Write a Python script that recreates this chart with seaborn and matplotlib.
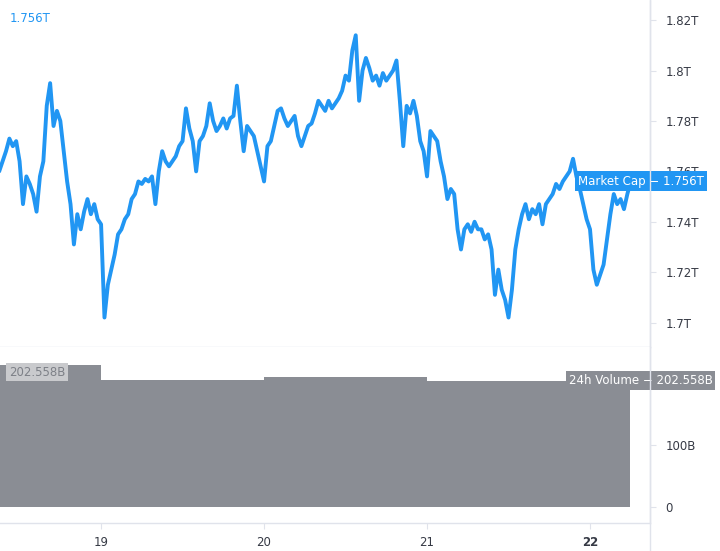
import numpy as np
import pandas as pd
import matplotlib.pyplot as plt
import matplotlib.dates as mdates
from matplotlib.lines import Line2D
import seaborn as sns

sns.set_style("white")
plt.rcParams["font.family"] = ["DejaVu Sans"]

# total market cap (trillions USD), one reading every 30 minutes from Feb 18 09:00
cap_start = "2021-02-18 09:00"
market_cap = [
    1.760, 1.764, 1.768, 1.773, 1.770, 1.772, 1.764, 1.747, 1.758, 1.755,
    1.751, 1.744, 1.758, 1.764, 1.786, 1.795, 1.778, 1.784, 1.780, 1.768,
    1.756, 1.747, 1.731, 1.743, 1.737, 1.744, 1.749, 1.743, 1.747, 1.741,
    1.739, 1.702, 1.715, 1.721, 1.727, 1.735, 1.737, 1.741, 1.743, 1.749,
    1.751, 1.756, 1.755, 1.757, 1.756, 1.758, 1.747, 1.760, 1.768, 1.764,
    1.762, 1.764, 1.766, 1.770, 1.772, 1.785, 1.777, 1.772, 1.760, 1.772,
    1.774, 1.778, 1.787, 1.780, 1.776, 1.778, 1.781, 1.777, 1.781, 1.782,
    1.794, 1.780, 1.768, 1.778, 1.776, 1.774, 1.768, 1.762, 1.756, 1.770,
    1.772, 1.778, 1.784, 1.785, 1.781, 1.778, 1.780, 1.782, 1.774, 1.770,
    1.774, 1.778, 1.779, 1.783, 1.788, 1.786, 1.784, 1.788, 1.785, 1.787,
    1.789, 1.792, 1.798, 1.796, 1.808, 1.814, 1.788, 1.800, 1.805, 1.801,
    1.796, 1.798, 1.794, 1.799, 1.796, 1.798, 1.800, 1.804, 1.788, 1.770,
    1.786, 1.783, 1.788, 1.782, 1.772, 1.768, 1.758, 1.776, 1.774, 1.772,
    1.764, 1.758, 1.749, 1.753, 1.751, 1.737, 1.729, 1.737, 1.739, 1.736,
    1.740, 1.737, 1.737, 1.733, 1.735, 1.729, 1.711, 1.721, 1.713, 1.709,
    1.702, 1.713, 1.729, 1.737, 1.743, 1.747, 1.741, 1.745, 1.743, 1.747,
    1.739, 1.747, 1.749, 1.751, 1.755, 1.753, 1.756, 1.758, 1.760, 1.765,
    1.758, 1.753, 1.747, 1.741, 1.737, 1.721, 1.715, 1.719, 1.723, 1.733,
    1.743, 1.751, 1.747, 1.749, 1.745, 1.751, 1.756,
]

# 24h volume (billions USD), daily steps
vol_times = ["2021-02-18 09:00", "2021-02-19 00:00", "2021-02-20 00:00",
             "2021-02-21 00:00", "2021-02-22 05:54"]
volume = [228, 204, 209, 202.558, 202.558]

cap_ticks = [1.70, 1.72, 1.74, 1.76, 1.78, 1.80, 1.82]
vol_ticks = [0, 100]
day_ticks = ["2021-02-19", "2021-02-20", "2021-02-21", "2021-02-22"]
day_labels = ["19", "20", "21", "22"]

BLUE = "#2196f3"
GREY = "#8a8d94"
LINE = "#e0e3eb"
TEXT = "#363a45"

cap_df = pd.DataFrame({
    "time": pd.date_range(cap_start, periods=len(market_cap), freq="30min"),
    "cap": market_cap,
})
vol_df = pd.DataFrame({"time": pd.to_datetime(vol_times), "volume": volume})

W, H = 720, 551
fig = plt.figure(figsize=(W / 100, H / 100), dpi=100)
right = 650
ax1 = fig.add_axes([0, (H - 347) / H, right / W, 347 / H])
ax2 = fig.add_axes([0, (H - 523) / H, right / W, (523 - 347) / H], sharex=ax1)

sns.lineplot(data=cap_df, x="time", y="cap", ax=ax1, color=BLUE, linewidth=2.8)
ax2.fill_between(vol_df["time"], vol_df["volume"], step="post", color=GREY, linewidth=0)

ax1.set_xlim(pd.Timestamp("2021-02-18 09:07"), pd.Timestamp("2021-02-22 08:50"))
ax1.set_ylim(1.6903, 1.8280)
ax2.set_ylim(-25.7, 257)

for ax in (ax1, ax2):
    ax.set_xlabel("")
    ax.set_ylabel("")
    ax.yaxis.tick_right()
    for s in ("top", "left"):
        ax.spines[s].set_visible(False)
    for s in ("right", "bottom"):
        ax.spines[s].set_color(LINE)
        ax.spines[s].set_linewidth(1)
    ax.tick_params(axis="y", colors=LINE, labelcolor=TEXT, length=4, pad=7,
                   labelsize=8.5, right=True, left=False)

ax1.set_yticks(cap_ticks)
ax1.set_yticklabels([f"{v:g}T" for v in cap_ticks])
ax2.set_yticks(vol_ticks)
ax2.set_yticklabels(["0" if v == 0 else f"{v:g}B" for v in vol_ticks])

ax1.tick_params(axis="x", bottom=False, labelbottom=False)
ax2.set_xticks(pd.to_datetime(day_ticks))
ax2.set_xticklabels(day_labels)
ax2.tick_params(axis="x", colors=LINE, labelcolor=TEXT, length=4, pad=5,
                labelsize=8.5, bottom=True)
ax2.get_xticklabels()[-1].set_fontweight("bold")

# right axis line continues through the date strip
fig.add_artist(Line2D([right / W, right / W], [0, 1], color=LINE, linewidth=1,
                      transform=fig.transFigure))

# last value labels
last_cap = market_cap[-1]
last_vol = volume[-1]
ax1.text(10 / right, 1 - 18 / 347, f"{last_cap:.3f}T", transform=ax1.transAxes,
         color=BLUE, fontsize=8.5, ha="left", va="center")
ax1.text(1.083, last_cap, f"Market Cap \u2212 {last_cap:.3f}T",
         transform=ax1.get_yaxis_transform(), ha="right", va="center",
         color="white", fontsize=8.5, clip_on=False, zorder=10,
         bbox=dict(boxstyle="square,pad=0.3", fc=BLUE, ec="none"))
ax2.text(9 / right, 1 - 25 / 176, f"{last_vol:.3f}B", transform=ax2.transAxes,
         ha="left", va="center", color="#7d8087", fontsize=8.5, zorder=10,
         bbox=dict(boxstyle="square,pad=0.25", fc="#c9cacd", ec="none"))
ax2.text(1.096, last_vol, f"24h Volume \u2212 {last_vol:.3f}B",
         transform=ax2.get_yaxis_transform(), ha="right", va="center",
         color="white", fontsize=8.5, clip_on=False, zorder=10,
         bbox=dict(boxstyle="square,pad=0.25", fc=GREY, ec="none"))

fig.savefig("out.png", dpi=100)
